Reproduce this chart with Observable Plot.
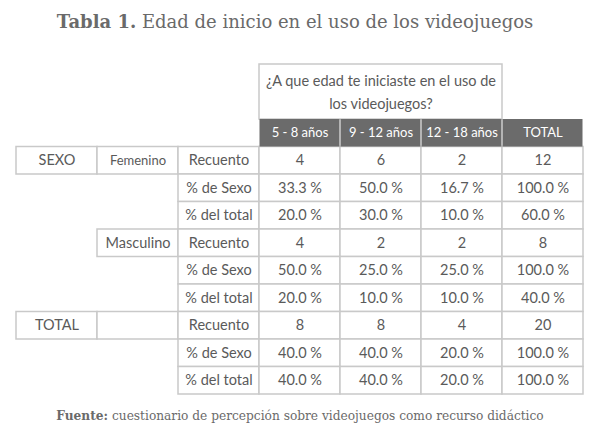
<!DOCTYPE html>
<html><head><meta charset="utf-8">
<script src="https://cdn.jsdelivr.net/npm/d3@7"></script>
<script src="https://cdn.jsdelivr.net/npm/@observablehq/plot@0.6"></script>
<style>
body{margin:0;background:#fff;}
#wrap{position:relative;width:600px;height:441px;overflow:hidden;}
#title{position:absolute;top:10px;left:-5px;width:600px;text-align:center;font-family:"DejaVu Serif",serif;font-size:18px;color:#6a6a6a;line-height:24px;white-space:nowrap;}
#cap{position:absolute;top:407px;left:0;width:600px;text-align:center;font-family:"DejaVu Serif",serif;font-size:12.2px;color:#6a6a6a;line-height:18px;white-space:nowrap;}
#chart{position:absolute;top:0;left:0;}
</style></head>
<body>
<div id="wrap">
<div id="chart"></div>
<div id="title"><b>Tabla 1.</b> Edad de inicio en el uso de los videojuegos</div>
<div id="cap"><b>Fuente:</b> cuestionario de percepción sobre videojuegos como recurso didáctico</div>
</div>
<script>
const question = "¿A que edad te iniciaste en el uso de\nlos videojuegos?";
const ageGroups = ["5 - 8 años", "9 - 12 años", "12 - 18 años", "TOTAL"];
const sexGroups = ["Femenino", "Masculino", ""];
const groupLabels = ["SEXO", "", "TOTAL"];
const measures = ["Recuento", "% de Sexo", "% del total"];

const femRecuento = [4, 6, 2, 12];
const femPctSexo = [33.3, 50.0, 16.7, 100.0];
const femPctTotal = [20.0, 30.0, 10.0, 60.0];
const masRecuento = [4, 2, 2, 8];
const masPctSexo = [50.0, 25.0, 25.0, 100.0];
const masPctTotal = [20.0, 10.0, 10.0, 40.0];
const totRecuento = [8, 8, 4, 20];
const totPctSexo = [40.0, 40.0, 20.0, 100.0];
const totPctTotal = [40.0, 40.0, 20.0, 100.0];

const blocks = [
  [femRecuento, femPctSexo, femPctTotal],
  [masRecuento, masPctSexo, masPctTotal],
  [totRecuento, totPctSexo, totPctTotal]
];

const fmtPct = v => v.toFixed(1) + " %";
const fmtCount = v => String(v);

// Table units: columns 0..7, rows 0..12 (0-2 question, 2-3 header, 3.. body)
const cells = [];
const texts = [];
blocks.forEach((blk, s) => {
  blk.forEach((vals, m) => {
    const r = 3 + s * 3 + m;
    if (m === 0) {
      if (s !== 1) {
        cells.push({c: 0, w: 1, r});
        texts.push({c: 0, w: 1, r, t: groupLabels[s], fs: 14.5});
      }
      cells.push({c: 1, w: 1, r});
      if (sexGroups[s]) texts.push({c: 1, w: 1, r, t: sexGroups[s], fs: s === 0 ? 13 : 14.5});
    }
    cells.push({c: 2, w: 1, r});
    texts.push({c: 2, w: 1, r, t: measures[m], fs: 14.5});
    vals.forEach((v, i) => {
      cells.push({c: 3 + i, w: 1, r});
      texts.push({c: 3 + i, w: 1, r, t: m === 0 ? fmtCount(v) : fmtPct(v), fs: 14.5});
    });
  });
});
const headers = ageGroups.map((g, i) => ({c: 3 + i, w: 1, r: 2, t: g}));
const qbox = [{c: 3, w: 3, r: 0, h: 2, t: question}];

const gray = "#c9c9c9";
const ink = "#5a5a5a";
const font = "Lato";

const plot = Plot.plot({
  width: 600,
  height: 441,
  margin: 0,
  x: {domain: [0, 7], range: [16, 583], axis: null},
  y: {domain: [0, 12], range: [64, 394], axis: null},
  style: {fontFamily: font, background: "white"},
  marks: [
    Plot.rect(qbox, {x1: "c", x2: d => d.c + d.w, y1: "r", y2: d => d.r + d.h, fill: "white", stroke: gray, strokeWidth: 1.5}),
    Plot.rect(cells, {x1: "c", x2: d => d.c + d.w, y1: "r", y2: d => d.r + 1, fill: "white", stroke: gray, strokeWidth: 1.5}),
    Plot.rect(headers, {x1: "c", x2: d => d.c + d.w, y1: "r", y2: d => d.r + 1, fill: "#6b6b6b", insetLeft: 0.5, insetRight: 0.5}),
    Plot.text(headers, {x: d => d.c + d.w / 2, y: d => d.r + 0.5, text: "t", fill: "white", fontSize: 13, fontFamily: font}),
    Plot.text(qbox, {x: d => d.c + d.w / 2, y: d => d.r + 0.92, text: "t", fill: ink, fontSize: 14.5, lineHeight: 1.6, fontFamily: font}),
    Plot.text(texts, {x: d => d.c + d.w / 2, y: d => d.r + 0.5, text: "t", fill: ink, fontSize: "fs", fontFamily: font})
  ]
});
document.getElementById("chart").appendChild(plot);
</script>
</body></html>
